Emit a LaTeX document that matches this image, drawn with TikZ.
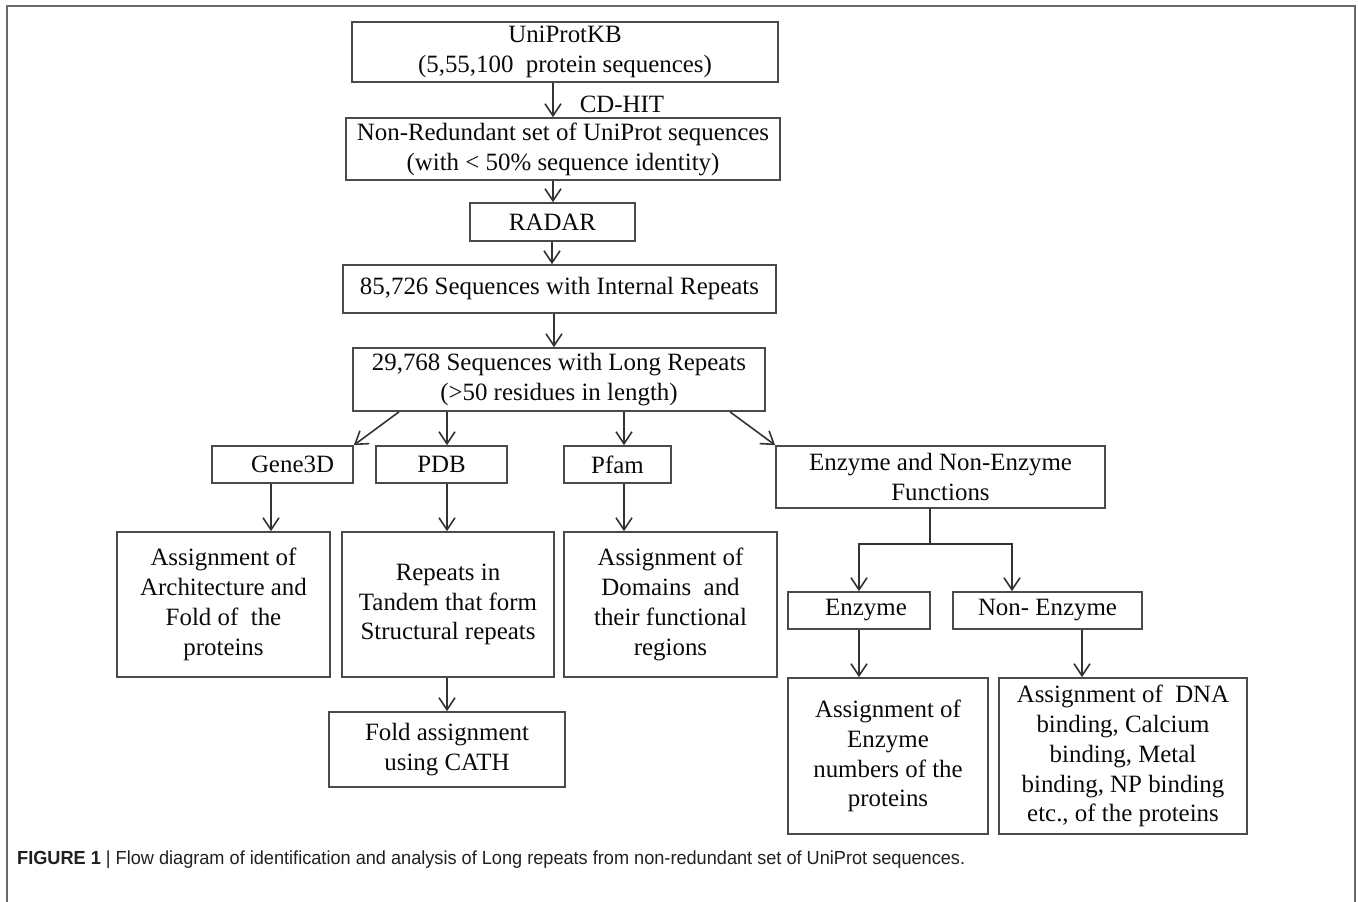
\documentclass[tikz,border=0pt]{standalone}
\usepackage{fontspec}
\usepackage{graphicx}
\setmainfont{Liberation Serif}
\newfontfamily\capfont{Liberation Sans}
\usetikzlibrary{arrows.meta}
\definecolor{lin}{HTML}{333333}
\definecolor{bord}{HTML}{4A4A4A}
\definecolor{txt}{HTML}{0A0A0A}
\definecolor{frm}{HTML}{6A6A6A}
\definecolor{captxt}{HTML}{231F20}
\tikzset{
  box/.style={draw=bord, line width=1.7bp, rectangle, inner sep=0pt, align=center,
    text=txt, font=\fontsize{25}{30}\selectfont},
  arr/.style={draw=lin, line width=1.6bp, -{Straight Barb[length=12bp,width=16bp,line width=1.6bp]}},
  ln/.style={draw=lin, line width=1.6bp},
}
\begin{document}
\begin{tikzpicture}[x=1bp,y=1bp]
\useasboundingbox (0,0) rectangle (1358,-901);
% outer frame
\draw[frm, line width=1.5bp] (7,-905) -- (7,-6) -- (1355,-6) -- (1355,-905);

% boxes
\node[box, minimum width=426bp, minimum height=60bp] (uni) at (565,-52) {UniProtKB\\(5,55,100~ protein sequences)};
\node[text=txt, font=\fontsize{25}{30}\selectfont, inner sep=0pt] (cdhit) at (622,-104) {CD-HIT};
\node[box, minimum width=434bp, minimum height=62bp] (nr) at (563,-149) {Non-Redundant set of UniProt sequences\\(with < 50\% sequence identity)};
\node[box, minimum width=165bp, minimum height=38bp] (radar) at (552.5,-222) {RADAR};
\node[box, minimum width=433bp, minimum height=48bp] (r85) at (559.5,-289) {85,726 Sequences with Internal Repeats};
\node[box, minimum width=412bp, minimum height=63bp] (r29) at (559,-379.5) {29,768 Sequences with Long Repeats\\(>50 residues in length)};

\node[box, minimum width=141bp, minimum height=37bp] (gene) at (282.5,-464.5) {\hspace*{20bp}Gene3D};
\node[box, minimum width=131bp, minimum height=37bp] (pdb) at (441.5,-464.5) {PDB};
\node[box, minimum width=107bp, minimum height=37bp] (pfam) at (617.5,-464.5) {Pfam};
\node[box, minimum width=329bp, minimum height=62bp] (ef) at (940.5,-477) {Enzyme and Non-Enzyme\\Functions};

\node[box, minimum width=213bp, minimum height=145bp] (arch) at (223.5,-604.5) {Assignment of\\Architecture and\\Fold of~ the\\proteins};
\node[box, minimum width=212bp, minimum height=145bp] (rep) at (448,-604.5) {Repeats in\\Tandem that form\\Structural repeats};
\node[box, minimum width=213bp, minimum height=145bp] (dom) at (670.5,-604.5) {Assignment of\\Domains~ and\\their functional\\regions};
\node[box, minimum width=236bp, minimum height=75bp] (fold) at (447,-749.5) {Fold assignment\\using CATH};

\node[box, minimum width=142bp, minimum height=37bp] (enz) at (859,-610.5) {\hspace*{14bp}Enzyme};
\node[box, minimum width=189bp, minimum height=37bp] (non) at (1047.5,-610.5) {Non- Enzyme};
\node[box, minimum width=200bp, minimum height=156bp] (num) at (888,-756) {Assignment of\\Enzyme\\numbers of the\\proteins};
\node[box, minimum width=248bp, minimum height=156bp] (dna) at (1123,-756) {Assignment of~ DNA\\binding, Calcium\\binding, Metal\\binding, NP binding\\etc., of the proteins};

% connectors
\draw[arr] (uni.south -| 553,0) -- (nr.north -| 553,0);
\draw[arr] (nr.south -| 553,0) -- (radar.north -| 553,0);
\draw[arr] (radar.south -| 552,0) -- (r85.north -| 552,0);
\draw[arr] (r85.south -| 554,0) -- (r29.north -| 554,0);
\draw[arr] (r29.south -| 399,0) -- (gene.north east);
\draw[arr] (r29.south -| 447,0) -- (pdb.north -| 447,0);
\draw[arr] (r29.south -| 624,0) -- (pfam.north -| 624,0);
\draw[arr] (r29.south -| 730,0) -- (ef.north west);
\draw[arr] (gene.south -| 271,0) -- (arch.north -| 271,0);
\draw[arr] (pdb.south -| 447,0) -- (rep.north -| 447,0);
\draw[arr] (pfam.south -| 624,0) -- (dom.north -| 624,0);
\draw[arr] (rep.south -| 447,0) -- (fold.north -| 447,0);
\coordinate (j) at (930,-544);
\draw[ln] (ef.south -| j) -- (j);
\draw[arr] (j) -| (enz.north);
\draw[arr] (j) -| (non.north -| 1012,0);
\draw[arr] (enz.south) -- (num.north -| enz.south);
\draw[arr] (non.south -| 1082,0) -- (dna.north -| 1082,0);

% caption
\node[anchor=west, inner sep=0pt, text=captxt] (cap) at (17,-860) {\resizebox{948bp}{\height}{\capfont\fontsize{19}{22}\selectfont\textbf{FIGURE 1} | Flow diagram of identification and analysis of Long repeats from non-redundant set of UniProt sequences.}};
\end{tikzpicture}
\end{document}
